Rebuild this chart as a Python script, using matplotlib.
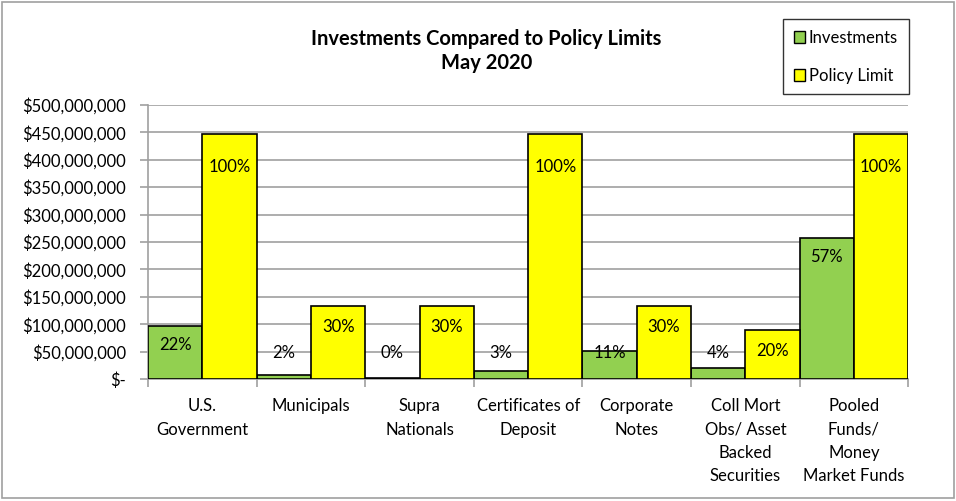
import matplotlib.pyplot as plt
import numpy as np
from matplotlib.patches import Rectangle, Patch
from matplotlib.ticker import FuncFormatter, MultipleLocator

plt.rcParams['font.family'] = ['Lato', 'DejaVu Sans']

categories = ['U.S.\nGovernment', 'Municipals', 'Supra\nNationals', 'Certificates of\nDeposit',
              'Corporate\nNotes', 'Coll Mort\nObs/ Asset\nBacked\nSecurities',
              'Pooled\nFunds/\nMoney\nMarket Funds']
investments = [97e6, 7.5e6, 1.5e6, 14e6, 51e6, 19.5e6, 256.5e6]
policy_limit = [447e6, 134e6, 134e6, 447e6, 134e6, 89e6, 447e6]
inv_pct = ['22%', '2%', '0%', '3%', '11%', '4%', '57%']
limit_pct = ['100%', '30%', '30%', '100%', '30%', '20%', '100%']

fig = plt.figure(figsize=(9.56, 5.01), dpi=100)
ax = fig.add_axes([0.155, 0.2435, 0.795, 0.547])

x = np.arange(len(categories))
w = 0.5
ax.bar(x - w / 2, investments, w, color='#92d050', edgecolor='black', linewidth=1.2, zorder=3)
ax.bar(x + w / 2, policy_limit, w, color='#ffff00', edgecolor='black', linewidth=1.2, zorder=3)

ax.set_ylim(0, 500e6)
ax.set_xlim(-0.5, len(categories) - 0.5)
ax.yaxis.set_major_locator(MultipleLocator(50e6))
ax.yaxis.set_major_formatter(FuncFormatter(lambda v, p: '$-' if v == 0 else '${:,.0f}'.format(v)))
ax.grid(axis='y', color='#a0a0a0', linewidth=1.2, zorder=0)

ax.set_xticks(x)
ax.set_xticklabels(categories, linespacing=1.55, va='top')
ax.set_xticks(np.arange(len(categories) + 1) - 0.5, minor=True)
ax.tick_params(axis='x', which='major', length=0, pad=14, labelsize=12)
ax.tick_params(axis='x', which='minor', length=6, color='#a0a0a0', width=1.2)
ax.tick_params(axis='y', length=6, color='#a0a0a0', width=1.2, labelsize=12, pad=10)

for s in ['top', 'right']:
    ax.spines[s].set_visible(False)
ax.spines['left'].set_color('#a0a0a0')
ax.spines['bottom'].set_color('#a0a0a0')
ax.spines['left'].set_linewidth(1.2)
ax.spines['bottom'].set_linewidth(1.2)

# percentage labels
px = 500e6 / 274.0
for i in range(len(categories)):
    yv = max(investments[i] - 19 * px, 26 * px)
    ax.text(x[i] - w / 2, yv, inv_pct[i], ha='center', va='center', fontsize=12, zorder=4)
    off = 33 if limit_pct[i] == '100%' else 21
    ax.text(x[i] + w / 2, policy_limit[i] - off * px, limit_pct[i], ha='center', va='center',
            fontsize=12, zorder=4)

fig.text(0.509, 0.922, 'Investments Compared to Policy Limits', ha='center', va='center',
         fontsize=14.5, fontweight='bold')
fig.text(0.509, 0.874, 'May 2020', ha='center', va='center', fontsize=14.5, fontweight='bold')

handles = [Patch(facecolor='#92d050', edgecolor='black'), Patch(facecolor='#ffff00', edgecolor='black')]
leg = fig.legend(handles, ['Investments', 'Policy Limit'], loc='upper left',
                 bbox_to_anchor=(0.819, 0.962), fontsize=12, frameon=True, fancybox=False,
                 handlelength=0.7, handleheight=0.7, handletextpad=0.2, labelspacing=1.3,
                 borderpad=0.65, borderaxespad=0)
leg.get_frame().set_edgecolor('black')
leg.get_frame().set_linewidth(1.0)

fig.patches.append(Rectangle((0.002, 0.006), 0.996, 0.99, transform=fig.transFigure,
                             fill=False, edgecolor='#a0a0a0', linewidth=1.2))

fig.savefig('out.png', dpi=100)
